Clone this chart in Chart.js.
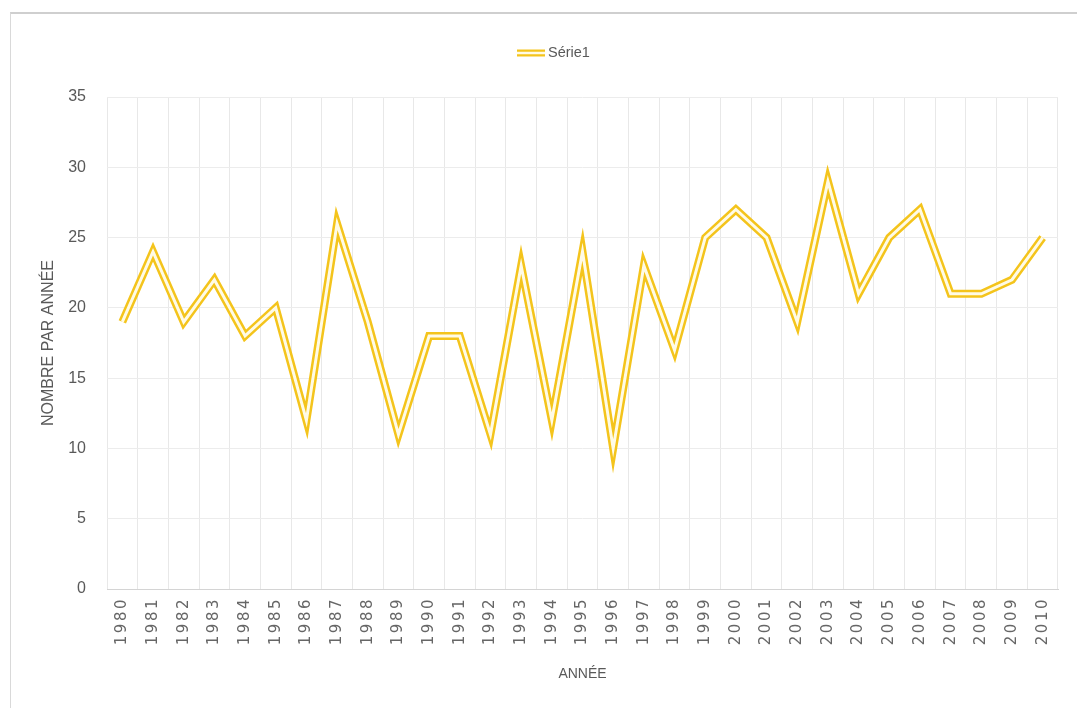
<!DOCTYPE html>
<html>
<head>
<meta charset="utf-8">
<script src="https://cdn.jsdelivr.net/npm/chart.js@4.4.1/dist/chart.umd.min.js"></script>
<style>
  html, body { margin: 0; padding: 0; background: #fff; }
  #wrap { position: relative; width: 1077px; height: 708px; overflow: hidden; }
  #frame { position: absolute; left: 10px; top: 12px; width: 1067px; height: 700px;
           border-top: 2px solid #cfcfcf; border-left: 1px solid #d9d9d9; }
  canvas { position: absolute; left: 0; top: 0; }
</style>
</head>
<body>
<div id="wrap">
  <div id="frame"></div>
  <canvas id="c" width="1077" height="708"></canvas>
</div>
<script>
const categories = ["1980","1981","1982","1983","1984","1985","1986","1987","1988","1989",
  "1990","1991","1992","1993","1994","1995","1996","1997","1998","1999",
  "2000","2001","2002","2003","2004","2005","2006","2007","2008","2009","2010"];
const serie1 = [19, 24, 19, 22, 18, 20, 12, 26, 19, 11,
  18, 18, 11, 23, 12, 24, 10, 23, 17, 25,
  27, 25, 19, 29, 21, 25, 27, 21, 21, 22, 25];
const seriesName = "Série1";
const yTicks = { min: 0, max: 35, step: 5 };
const xTitle = "ANNÉE";
const yTitle = "NOMBRE PAR ANNÉE";

const gold = "#F4C41C";
const inner = "#fffbe6";
const txt = "#595959";
const fontMain = "'Liberation Sans', 'DejaVu Sans', sans-serif";

class SpacedCategory extends Chart.CategoryScale {
  drawLabels(chartArea) {
    const ctx = this.ctx;
    ctx.save();
    ctx.letterSpacing = '2.5px';
    super.drawLabels(chartArea);
    ctx.restore();
  }
}
SpacedCategory.id = 'spacedCategory';
SpacedCategory.defaults = Chart.CategoryScale.defaults;
Chart.register(SpacedCategory);

const legendPlugin = {
  id: 'doubleLegend',
  afterDraw(chart) {
    const ctx = chart.ctx;
    const y = 53;
    ctx.save();
    ctx.font = "14.5px " + fontMain;
    const sw = 28, gap = 3;
    const x0 = 517;
    ctx.lineCap = 'butt';
    ctx.strokeStyle = gold; ctx.lineWidth = 7;
    ctx.beginPath(); ctx.moveTo(x0, y); ctx.lineTo(x0 + sw, y); ctx.stroke();
    ctx.strokeStyle = inner; ctx.lineWidth = 2.5;
    ctx.beginPath(); ctx.moveTo(x0, y); ctx.lineTo(x0 + sw, y); ctx.stroke();
    ctx.fillStyle = txt; ctx.textBaseline = 'middle'; ctx.textAlign = 'left';
    ctx.fillText(seriesName, x0 + sw + gap, y);
    ctx.restore();
  }
};

new Chart(document.getElementById('c'), {
  type: 'line',
  data: {
    labels: categories,
    datasets: [
      { label: seriesName, data: serie1, borderColor: gold, backgroundColor: gold,
        borderWidth: 8, pointRadius: 0, tension: 0, borderJoinStyle: 'miter', borderCapStyle: 'butt', order: 2 },
      { label: '_inner', data: serie1, borderColor: inner, backgroundColor: inner,
        borderWidth: 3, pointRadius: 0, tension: 0, borderJoinStyle: 'miter', borderCapStyle: 'butt', order: 1 }
    ]
  },
  plugins: [legendPlugin],
  options: {
    responsive: false,
    animation: false,
    layout: { padding: { left: 35, right: 19, top: 97, bottom: 23 } },
    plugins: {
      tooltip: { enabled: false },
      legend: { display: false }
    },
    scales: {
      x: {
        type: 'spacedCategory',
        offset: true,
        grid: { offset: true, color: '#e8e8e8', drawTicks: false },
        border: { color: '#d4d4d4' },
        ticks: { color: '#666666', font: { family: "'DejaVu Sans', sans-serif", size: 15 },
                 minRotation: 90, maxRotation: 90, autoSkip: false, padding: 8 },
        title: { display: true, text: xTitle, color: txt,
                 font: { family: fontMain, size: 14 }, padding: { top: 4, bottom: 2 } },
        afterFit(scale) { scale.height = 96; }
      },
      y: {
        min: yTicks.min, max: yTicks.max,
        grid: { color: '#ececec', drawTicks: false },
        border: { display: false },
        ticks: { stepSize: yTicks.step, color: txt, font: { family: fontMain, size: 16 }, padding: 21 },
        title: { display: true, text: yTitle, color: txt,
                 font: { family: fontMain, size: 16 }, padding: { top: 4, bottom: 4 } },
        afterFit(scale) { scale.width = 72; }
      }
    }
  }
});
</script>
</body>
</html>
